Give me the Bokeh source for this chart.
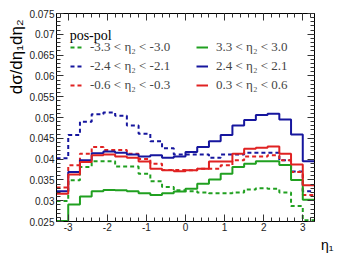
import numpy as np
from bokeh.plotting import figure
from bokeh.models import (Range1d, FixedTicker, LinearAxis, Legend, LegendItem, Label,
                          Title, CustomLabelingPolicy)
from bokeh.embed import file_html
from bokeh.resources import INLINE

# ---- data ----
bin_edges = [-3.3, -3.0, -2.7, -2.4, -2.1, -1.8, -1.5, -1.2, -0.9, -0.6, -0.3, 0.0,
             0.3, 0.6, 0.9, 1.2, 1.5, 1.8, 2.1, 2.4, 2.7, 3.0, 3.3]

neg33_dashed_green = [0.0299, 0.0349, 0.0381, 0.0395, 0.0395, 0.0382, 0.0382, 0.0365,
                      0.0347, 0.0333, 0.0325, 0.0323, 0.0320, 0.0318, 0.0318, 0.0320,
                      0.0327, 0.0330, 0.0329, 0.0320, 0.0287, 0.0253]
neg24_dashed_blue = [0.0402, 0.0458, 0.0490, 0.0508, 0.0512, 0.0504, 0.0481, 0.0461,
                     0.0443, 0.0426, 0.0411, 0.0411, 0.0411, 0.0403, 0.0411, 0.0411,
                     0.0415, 0.0415, 0.0415, 0.0397, 0.0370, 0.0323]
neg06_dashed_red = [0.0332, 0.0385, 0.0413, 0.0429, 0.0422, 0.0422, 0.0413, 0.0400,
                    0.0389, 0.0374, 0.0374, 0.0373, 0.0377, 0.0377, 0.0385, 0.0397,
                    0.0406, 0.0406, 0.0409, 0.0397, 0.0369, 0.0314]
pos33_solid_green = [0.0251, 0.0291, 0.0310, 0.0323, 0.0326, 0.0325, 0.0323, 0.0318,
                     0.0314, 0.0318, 0.0322, 0.0329, 0.0341, 0.0351, 0.0365, 0.0381,
                     0.0389, 0.0395, 0.0395, 0.0386, 0.0350, 0.0302]
pos24_solid_blue = [0.0323, 0.0369, 0.0397, 0.0414, 0.0418, 0.0415, 0.0411, 0.0406,
                    0.0409, 0.0403, 0.0406, 0.0417, 0.0429, 0.0443, 0.0458, 0.0481,
                    0.0494, 0.0506, 0.0509, 0.0495, 0.0459, 0.0395]
pos03_solid_red = [0.0317, 0.0363, 0.0393, 0.0409, 0.0411, 0.0406, 0.0403, 0.0394,
                   0.0377, 0.0373, 0.0371, 0.0373, 0.0377, 0.0394, 0.0394, 0.0413,
                   0.0425, 0.0427, 0.0430, 0.0413, 0.0387, 0.0337]

series_labels = ["-3.3 < \u03b7\u2082 < -3.0", "-2.4 < \u03b7\u2082 < -2.1", "-0.6 < \u03b7\u2082 < -0.3",
                 "3.3 < \u03b7\u2082 < 3.0", "2.4 < \u03b7\u2082 < 2.1", "0.3 < \u03b7\u2082 < 0.6"]
legend_title = "pos-pol"
x_title = "\u03b7\u2081"
y_title = "d\u03c3/d\u03b7\u2081d\u03b7\u2082"

x_ticks = [-3, -2, -1, 0, 1, 2, 3]
x_tick_labels = ["-3", "-2", "-1", "0", "1", "2", "3"]
y_ticks = [0.025, 0.03, 0.035, 0.04, 0.045, 0.05, 0.055, 0.06, 0.065, 0.07, 0.075]
y_tick_labels = ["0.025", "0.03", "0.035", "0.04", "0.045", "0.05", "0.055", "0.06",
                 "0.065", "0.07", "0.075"]

GREEN = "#20a020"
BLUE = "#16169e"
RED = "#e02222"

p = figure(width=345, height=258, output_backend="svg", toolbar_location=None,
           x_range=Range1d(-3.3, 3.3), y_range=Range1d(0.025, 0.075),
           min_border_left=56, min_border_right=14, min_border_top=13, min_border_bottom=37)
p.xgrid.visible = False
p.ygrid.visible = False
p.outline_line_color = "black"
p.outline_line_width = 1
p.background_fill_color = "white"

x_minor = [round(v, 1) for v in np.arange(-3.2, 3.25, 0.2)]
y_minor = [round(v, 3) for v in np.arange(0.025, 0.0751, 0.001)]
xt = FixedTicker(ticks=x_ticks, minor_ticks=x_minor)
yt = FixedTicker(ticks=y_ticks, minor_ticks=y_minor)


def style_axis(ax, labels_on):
    ax.major_tick_in = 7
    ax.major_tick_out = 0
    ax.minor_tick_in = 4
    ax.minor_tick_out = 0
    ax.major_tick_line_color = "#333333"
    ax.minor_tick_line_color = "#333333"
    ax.axis_line_color = "black"
    if labels_on:
        ax.major_label_text_font = "Liberation Sans"
        ax.major_label_text_font_size = "10px"
        ax.major_label_text_color = "#222222"
        ax.major_label_standoff = 2
    else:
        ax.major_label_policy = CustomLabelingPolicy(
            code="for (const i of indices) indices.unset(i); return indices")
        ax.major_label_standoff = 0


p.xaxis.ticker = xt
p.yaxis.ticker = yt
p.xaxis.major_label_overrides = {t: l for t, l in zip(x_ticks, x_tick_labels)}
p.yaxis.major_label_overrides = {t: l for t, l in zip(y_ticks, y_tick_labels)}
style_axis(p.xaxis[0], True)
style_axis(p.yaxis[0], True)
p.xaxis[0].major_label_standoff = 1

ax_r = LinearAxis(ticker=yt)
style_axis(ax_r, False)
p.add_layout(ax_r, "right")
ax_t = LinearAxis(ticker=xt)
style_axis(ax_t, False)
p.add_layout(ax_t, "above")

series = [(neg33_dashed_green, GREEN, "4 3"), (neg24_dashed_blue, BLUE, "4 3"),
          (neg06_dashed_red, RED, "4 3"), (pos33_solid_green, GREEN, "solid"),
          (pos24_solid_blue, BLUE, "solid"), (pos03_solid_red, RED, "solid")]

items = []
for (vals, col, dash), lab in zip(series, series_labels):
    ys = list(vals) + [vals[-1]]
    r = p.step(bin_edges, ys, mode="after", line_color=col, line_width=2, line_dash=dash)
    items.append(LegendItem(label=lab, renderers=[r]))

legend = Legend(items=items, ncols=2, location=(14, 128),
                label_text_font="Liberation Serif", label_text_font_size="13px",
                glyph_width=12, glyph_height=14, label_standoff=8, spacing=3,
                padding=0, margin=0, border_line_color=None, background_fill_alpha=0,
                label_width=103)
p.add_layout(legend)

pos_lab = Label(x=-2.964, y=0.0697, text=legend_title, text_font="Liberation Serif",
                text_font_size="14px", text_color="black", text_align="left",
                text_baseline="alphabetic")
p.add_layout(pos_lab)

p.add_layout(Title(text=y_title, align="right", text_font="Liberation Sans",
                   text_font_size="17px", text_font_style="normal", text_color="black",
                   standoff=2, offset=6), "left")
p.add_layout(Title(text=x_title, align="right", text_font="Liberation Sans",
                   text_font_size="14px", text_font_style="normal", text_color="black",
                   standoff=2, offset=-19), "below")

open("out.html", "w").write(file_html(p, INLINE))
